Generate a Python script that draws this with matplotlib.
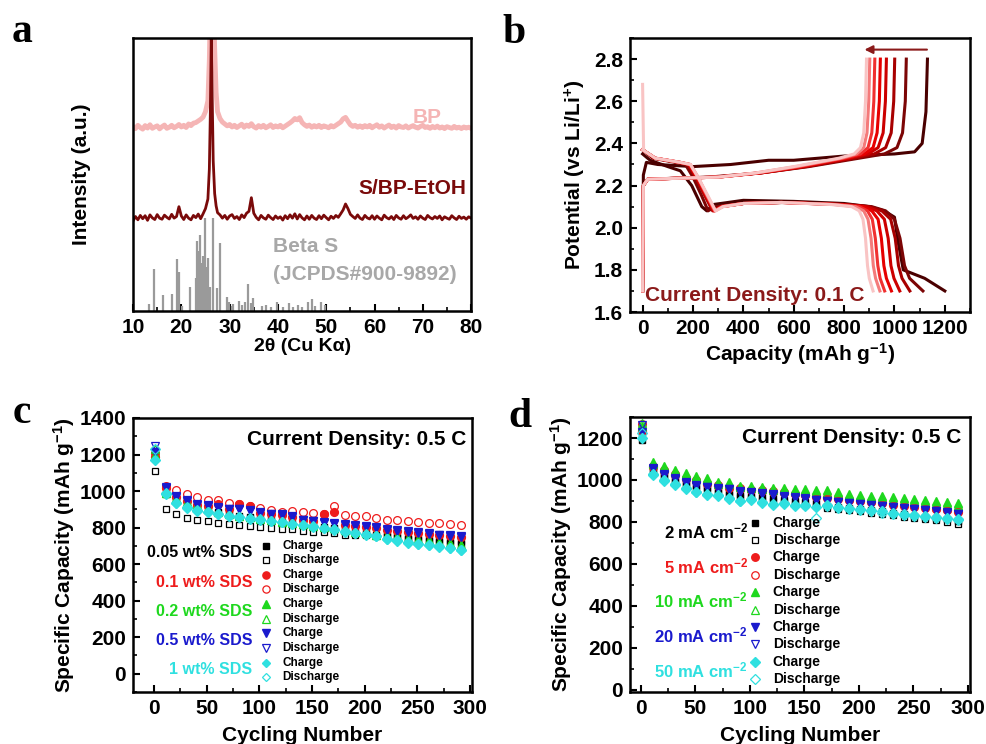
import numpy as np
import matplotlib
matplotlib.use("Agg")
import matplotlib.pyplot as plt
from matplotlib.ticker import MultipleLocator

plt.rcParams["font.family"] = ["Liberation Sans", "DejaVu Sans"]
plt.rcParams["font.weight"] = "bold"
plt.rcParams["axes.labelweight"] = "bold"
plt.rcParams["mathtext.fontset"] = "custom"
plt.rcParams["mathtext.rm"] = "Liberation Sans:bold"
plt.rcParams["mathtext.it"] = "Liberation Sans:bold"
plt.rcParams["mathtext.bf"] = "Liberation Sans:bold"
plt.rcParams["mathtext.default"] = "rm"

# ---------------- panel a : XRD ----------------
two_theta = np.concatenate([
    np.arange(10, 25.6, 0.5),
    [25.8, 26.0, 26.2, 26.4, 26.6, 26.9, 27.2, 27.5],
    np.arange(28, 80.1, 0.5),
])

sbp_int = [
    33.0, 34.6, 33.4, 35.0, 33.8, 34.9, 33.2, 35.2, 34.1, 33.5,
    35.3, 34.0, 33.6, 35.1, 34.3, 33.7, 35.4, 34.0, 34.6, 38.2,
    34.8, 33.5, 35.2, 34.0, 33.4, 35.0, 34.2, 35.5, 33.8, 35.6,
    37.5, 41.0,
    52.0, 72.0, 100.0, 78.0, 55.0, 43.0, 38.5, 36.0,
    35.2, 34.0, 35.0, 33.6, 34.8, 35.3, 33.9, 34.6, 33.5, 35.2,
    34.2, 35.8, 36.5, 41.5, 35.8, 34.3, 33.4, 35.0, 34.1, 33.6,
    35.1, 34.2, 33.5, 34.8, 33.9, 34.5, 33.3, 34.9, 33.8, 35.2,
    34.0, 35.6, 33.7, 35.3, 34.1, 33.4, 34.8, 33.6, 35.0, 34.0,
    33.5, 34.9, 33.8, 35.1, 34.2, 33.4, 34.7, 33.9, 35.0, 34.3,
    35.6, 37.0, 39.2, 37.5, 35.4, 34.6, 33.9, 35.2, 34.0, 33.5,
    35.0, 34.1, 33.7, 34.9, 33.6, 34.8, 34.0, 33.4, 35.1, 34.2,
    33.7, 34.6, 33.5, 35.0, 34.1, 33.6, 34.9, 33.8, 34.4, 35.2,
    33.9, 34.5, 33.6, 34.8, 34.0, 33.5, 35.0, 34.2, 33.7, 34.6,
    33.9, 34.8, 33.4, 34.5, 34.0, 33.6, 34.9, 34.1, 33.5, 34.7,
    33.9, 34.4, 33.6, 34.5, 34.0,
]

bp_int = [
    67.5, 66.8, 68.0, 67.2, 66.6, 67.9, 67.0, 68.2, 66.9, 67.4,
    67.8, 66.7, 67.5, 68.1, 66.9, 67.3, 68.0, 67.1, 67.6, 68.3,
    67.4, 68.0, 67.2, 68.5, 67.9, 68.8, 69.0, 69.6, 70.2, 71.0,
    73.0, 77.0,
    92.0, 112.0, 125.0, 128.0, 118.0, 96.0, 80.0, 73.0,
    70.5, 69.2, 68.5, 67.8, 68.3, 67.4, 68.0, 67.2, 67.8, 68.4,
    67.3, 68.1, 67.6, 68.6, 67.5, 67.0, 67.9, 67.3, 68.0, 67.1,
    67.6, 68.2, 67.2, 67.8, 67.4, 68.0, 67.1, 67.7, 68.3, 68.9,
    69.6, 70.5, 70.0, 70.8, 69.0, 68.2, 67.6, 68.1, 67.3, 67.9,
    67.4, 68.0, 67.2, 67.8, 67.5, 67.1, 67.9, 67.4, 68.0, 68.6,
    69.2, 70.4, 70.9, 69.5, 68.2, 67.6, 68.0, 67.3, 67.8, 67.2,
    67.9, 67.4, 68.0, 67.1, 67.7, 68.2, 67.3, 67.8, 67.0, 67.6,
    68.1, 67.2, 67.7, 67.0, 67.9, 67.4, 67.2, 67.8, 67.0, 67.5,
    67.9, 67.3, 67.0, 67.6, 68.0, 67.2, 67.5, 66.9, 67.6, 67.1,
    67.7, 67.0, 67.4, 66.8, 67.5, 67.2, 66.9, 67.6, 67.0, 67.3,
    66.8, 67.4, 67.0, 67.3, 66.9,
]

stick_pos = [13.4, 14.4, 16.3, 18.0, 19.0, 19.5, 20.1, 21.8, 23.0, 23.2,
             23.5, 23.8, 24.1, 24.5, 24.8, 25.2, 25.6, 26.0, 26.5, 27.4,
             28.0, 29.4, 29.9, 30.4, 30.8, 32.0, 32.6, 33.1, 33.9, 34.4,
             34.8, 36.8, 37.5, 38.6, 39.8, 41.0, 42.2, 43.1, 44.1, 45.0,
             46.3, 47.0, 47.6, 48.9, 49.8]
stick_h = [2.6, 15.2, 5.9, 6.1, 19.0, 14.4, 2.0, 8.7, 12.0, 25.7,
           22.0, 27.8, 17.4, 20.0, 33.9, 16.2, 19.3, 8.9, 33.9, 8.3,
           25.0, 5.2, 3.4, 2.0, 2.6, 3.8, 2.2, 3.4, 9.9, 3.0,
           4.6, 1.8, 2.2, 1.6, 3.3, 1.5, 2.8, 1.6, 2.3, 1.4,
           3.4, 4.4, 2.0, 3.4, 2.2]

# ---------------- panel b : charge / discharge ----------------
cycle_colors = ["#4a0000", "#7c0505", "#a80000", "#cc0000",
                "#e60000", "#f03030", "#f47a7a", "#f9c4c4"]

chg_v_first = [1.70, 2.25, 2.31, 2.30, 2.29, 2.30, 2.32, 2.32, 2.34, 2.35, 2.36, 2.40, 2.55, 2.80]
chg_q_first = [0, 3, 15, 60, 200, 350, 500, 600, 800, 1000, 1080, 1110, 1125, 1131]
chg_v = [1.70, 2.20, 2.23, 2.235, 2.24, 2.26, 2.29, 2.33, 2.35, 2.38, 2.45, 2.60, 2.80]
chg_q = [
    [0, 3, 20, 130, 260, 470, 660, 860, 960, 1010, 1032, 1043, 1047],
    [0, 3, 20, 140, 280, 470, 650, 840, 920, 965, 987, 997, 1001],
    [0, 3, 20, 150, 300, 470, 640, 820, 895, 935, 955, 964, 968],
    [0, 3, 20, 150, 300, 460, 630, 810, 880, 915, 931, 940, 944],
    [0, 3, 20, 150, 300, 460, 620, 800, 865, 895, 910, 918, 922],
    [0, 3, 20, 150, 300, 450, 610, 790, 850, 878, 891, 898, 902],
    [0, 3, 20, 150, 300, 450, 600, 780, 840, 865, 878, 885, 889],
]

dis_v_first = [2.35, 2.32, 2.29, 2.27, 2.20, 2.10, 2.08, 2.11, 2.13, 2.125, 2.115, 2.10, 2.08, 2.05, 1.95, 1.80, 1.76, 1.70]
dis_q_first = [0, 30, 100, 150, 195, 235, 255, 280, 400, 600, 800, 900, 960, 1000, 1012, 1035, 1120, 1200]
dis_v = [2.37, 2.33, 2.31, 2.30, 2.24, 2.15, 2.08, 2.10, 2.115, 2.12, 2.11, 2.10, 2.08, 2.04, 1.95, 1.82, 1.76, 1.70]
dis_q = [
    [0, 40, 130, 170, 200, 235, 260, 290, 400, 570, 810, 910, 965, 1000, 1022, 1040, 1060, 1113],
    [0, 45, 140, 180, 210, 248, 278, 308, 400, 560, 800, 900, 950, 985, 1003, 1016, 1030, 1061],
    [0, 50, 145, 184, 214, 252, 282, 312, 400, 550, 790, 890, 930, 960, 975, 986, 998, 1021],
    [0, 50, 150, 186, 216, 254, 284, 314, 400, 550, 780, 875, 910, 935, 948, 958, 968, 988],
    [0, 50, 150, 188, 218, 256, 286, 316, 400, 550, 770, 860, 893, 912, 924, 934, 943, 961],
    [0, 50, 150, 190, 220, 258, 288, 318, 400, 550, 760, 845, 878, 895, 907, 916, 925, 942],
    [0, 50, 150, 190, 220, 260, 290, 320, 400, 550, 750, 830, 860, 875, 885, 893, 900, 915],
]
ocv_q = [0, 4]
ocv_v = [2.68, 2.37]

# ---------------- panels c and d : cycling ----------------
cycles = list(range(1, 292, 10))
series_colors = ["#000000", "#ee1c1c", "#1ed81e", "#1a1acd", "#2fe0e0"]
series_markers = ["s", "o", "^", "v", "D"]

sds_labels = ["0.05 wt% SDS", "0.1 wt% SDS", "0.2 wt% SDS", "0.5 wt% SDS", "1 wt% SDS"]
c_chg = [
    [1195, 985, 955, 935, 918, 903, 888, 875, 865, 856, 848, 840, 833, 826, 818, 810, 803, 795, 786, 778, 770, 762, 755, 748, 740, 733, 726, 720, 714, 708],
    [1185, 1018, 968, 945, 926, 917, 927, 900, 930, 918, 881, 872, 868, 857, 840, 834, 875, 885, 816, 809, 802, 798, 789, 783, 776, 770, 765, 758, 753, 749],
    [1200, 990, 955, 935, 918, 903, 888, 875, 865, 856, 848, 840, 833, 826, 818, 810, 803, 795, 786, 778, 770, 762, 755, 747, 740, 732, 725, 717, 710, 702],
    [1215, 1018, 968, 945, 926, 917, 908, 900, 900, 890, 881, 872, 868, 857, 840, 834, 827, 821, 816, 809, 802, 798, 789, 783, 776, 770, 765, 758, 753, 749],
    [1170, 982, 932, 908, 893, 883, 873, 863, 856, 848, 842, 835, 828, 820, 812, 805, 797, 788, 778, 770, 762, 752, 738, 728, 718, 710, 702, 694, 686, 678],
]
c_dis = [
    [1108, 903, 876, 854, 843, 835, 826, 821, 813, 806, 802, 799, 793, 790, 784, 778, 777, 769, 762, 757, 760, 755, 752, 748, 745, 741, 737, 733, 729, 725],
    [1210, 1025, 1004, 982, 967, 949, 949, 934, 927, 916, 909, 894, 885, 890, 883, 879, 876, 916, 867, 861, 861, 854, 843, 843, 835, 830, 826, 824, 820, 813],
    [1230, 995, 960, 940, 922, 908, 893, 880, 870, 860, 852, 845, 838, 830, 822, 815, 808, 800, 790, 782, 775, 768, 760, 752, 745, 737, 730, 722, 715, 705],
    [1245, 1022, 972, 949, 930, 921, 912, 903, 903, 894, 885, 876, 872, 861, 843, 838, 831, 825, 820, 813, 806, 802, 793, 787, 780, 774, 769, 762, 757, 753],
    [1230, 988, 935, 910, 895, 885, 875, 866, 858, 850, 845, 838, 830, 822, 815, 807, 800, 790, 780, 772, 765, 755, 740, 730, 720, 712, 705, 697, 688, 680],
]

areal_labels = [r"2 mA cm$^{-2}$", r"5 mA cm$^{-2}$", r"10 mA cm$^{-2}$",
                r"20 mA cm$^{-2}$", r"50 mA cm$^{-2}$"]
d_chg = [
    [1190, 1045, 1020, 1000, 985, 970, 960, 950, 940, 930, 925, 918, 912, 905, 900, 895, 888, 878, 873, 868, 862, 856, 850, 843, 837, 830, 824, 818, 812, 805],
    [1235, 1062, 1042, 1022, 1003, 993, 983, 973, 964, 957, 951, 947, 943, 938, 931, 927, 919, 914, 909, 904, 899, 894, 889, 881, 877, 871, 867, 861, 856, 849],
    [1255, 1088, 1069, 1048, 1034, 1021, 1008, 989, 990, 973, 973, 968, 962, 962, 957, 957, 952, 950, 941, 933, 928, 925, 922, 917, 912, 909, 906, 901, 896, 890],
    [1230, 1050, 1025, 1005, 985, 970, 965, 958, 955, 945, 940, 935, 930, 920, 915, 910, 903, 900, 895, 890, 885, 880, 875, 870, 866, 860, 855, 850, 845, 838],
    [1200, 1030, 1000, 980, 960, 945, 930, 930, 915, 900, 910, 895, 885, 890, 880, 880, 870, 880, 870, 865, 860, 855, 850, 845, 838, 832, 828, 822, 818, 812],
]
d_dis = [
    [1215, 1040, 1012, 992, 976, 962, 951, 940, 930, 920, 913, 906, 900, 893, 886, 880, 874, 868, 862, 856, 850, 844, 838, 832, 826, 820, 814, 808, 802, 790],
    [1265, 1068, 1048, 1028, 1008, 998, 988, 978, 968, 960, 954, 950, 946, 941, 934, 930, 922, 917, 912, 907, 902, 897, 892, 884, 880, 874, 870, 864, 859, 852],
    [1270, 1075, 1058, 1038, 1022, 1010, 998, 982, 980, 965, 964, 958, 953, 952, 947, 946, 942, 938, 930, 923, 918, 915, 911, 906, 902, 898, 895, 890, 885, 879],
    [1260, 1058, 1030, 1010, 990, 975, 968, 960, 957, 948, 942, 937, 932, 923, 918, 912, 906, 902, 897, 892, 887, 882, 877, 872, 868, 862, 857, 852, 847, 840],
    [1225, 1025, 995, 975, 955, 942, 935, 925, 910, 898, 905, 890, 880, 885, 878, 875, 821, 875, 865, 860, 855, 850, 845, 840, 833, 828, 823, 818, 813, 808],
]


def style_axes(ax):
    for sp in ax.spines.values():
        sp.set_linewidth(1.8)
    ax.tick_params(which="major", direction="in", length=5, width=1.5, labelsize=15, pad=5)
    ax.tick_params(which="minor", direction="in", length=3, width=1.2)


def draw_key(ax, labels, mx, tx, gx, y0, dy, gsize, ksize, ms):
    for i, (lab, col, mk) in enumerate(zip(labels, series_colors, series_markers)):
        yc = y0 - 2 * i * dy
        yd = yc - dy
        s = ms * 0.85 if mk in ("s", "D") else ms
        ax.plot([mx], [yc], marker=mk, color=col, ms=s, ls="none", transform=ax.transAxes)
        ax.plot([mx], [yd], marker=mk, mfc="none", mec=col, mew=0.9, ms=s, ls="none",
                transform=ax.transAxes)
        ax.text(tx, yc, "Charge", transform=ax.transAxes, va="center", fontsize=ksize)
        ax.text(tx, yd, "Discharge", transform=ax.transAxes, va="center", fontsize=ksize)
        ax.text(gx, (yc + yd) / 2, lab, color=col, transform=ax.transAxes, ha="right",
                va="center", fontsize=gsize)


def draw_cycling(ax, chg, dis):
    for i in range(5):
        col = series_colors[i]
        mk = series_markers[i]
        s = 4.8 if mk in ("s", "D") else 5.6
        ax.plot(cycles, chg[i], marker=mk, color=col, ms=s, ls="none")
        ax.plot(cycles, dis[i], marker=mk, mfc="none", mec=col, mew=0.9, ms=s, ls="none")


fig = plt.figure(figsize=(9.87, 7.44), dpi=100)

# panel a
ax_a = fig.add_axes([0.1348, 0.582, 0.3425, 0.367])
ax_a.vlines(stick_pos, 0, stick_h, color="#9a9a9a", lw=1.6)
ax_a.plot(two_theta, bp_int, color="#f5b5b5", lw=3.5)
ax_a.plot(two_theta, sbp_int, color="#7a0a0a", lw=2.0)
ax_a.set_xlim(10, 80)
ax_a.set_ylim(0, 100)
ax_a.xaxis.set_major_locator(MultipleLocator(10))
ax_a.xaxis.set_minor_locator(MultipleLocator(5))
style_axes(ax_a)
ax_a.tick_params(axis="y", which="both", left=False, labelleft=False)
ax_a.set_xlabel("2θ (Cu Kα)", fontsize=14, labelpad=1)
ax_a.set_ylabel("Intensity (a.u.)", fontsize=15, labelpad=30)
ax_a.text(74, 71, "BP", color="#f5b5b5", fontsize=15, ha="right", va="center")
ax_a.text(79, 45, "S/BP-EtOH", color="#7a0a0a", fontsize=15, ha="right", va="center")
ax_a.text(39, 23.5, "Beta S", color="#a8a8a8", fontsize=15, ha="left", va="center")
ax_a.text(39, 13.5, "(JCPDS#900-9892)", color="#a8a8a8", fontsize=15, ha="left", va="center")

# panel b
ax_b = fig.add_axes([0.6383, 0.5806, 0.3445, 0.3683])
ax_b.plot(chg_q_first, chg_v_first, color=cycle_colors[0], lw=2.2)
ax_b.plot(dis_q_first, dis_v_first, color=cycle_colors[0], lw=2.2)
for k in range(7):
    ax_b.plot(chg_q[k], chg_v, color=cycle_colors[k + 1], lw=2.2)
    ax_b.plot(dis_q[k], dis_v, color=cycle_colors[k + 1], lw=2.2)
ax_b.plot(ocv_q, ocv_v, color=cycle_colors[-1], lw=2.2)
ax_b.set_xlim(-50, 1300)
ax_b.set_ylim(1.6, 2.9)
ax_b.xaxis.set_major_locator(MultipleLocator(200))
ax_b.xaxis.set_minor_locator(MultipleLocator(100))
ax_b.yaxis.set_major_locator(MultipleLocator(0.2))
ax_b.yaxis.set_minor_locator(MultipleLocator(0.1))
style_axes(ax_b)
ax_b.set_xlabel(r"Capacity (mAh g$^{-1}$)", fontsize=15, labelpad=2)
ax_b.set_ylabel(r"Potential (vs Li/Li$^{+}$)", fontsize=15, labelpad=4)
ax_b.text(10, 1.68, "Current Density: 0.1 C", color="#8b1a1a", fontsize=15, va="center")
ax_b.annotate("", xy=(870, 2.845), xytext=(1140, 2.845),
              arrowprops=dict(arrowstyle="-|>", color="#8b1a1a", lw=1.5, mutation_scale=12))

# panel c
ax_c = fig.add_axes([0.1348, 0.0699, 0.3435, 0.3683])
draw_cycling(ax_c, c_chg, c_dis)
ax_c.set_xlim(-20, 302)
ax_c.set_ylim(-100, 1400)
ax_c.xaxis.set_major_locator(MultipleLocator(50))
ax_c.xaxis.set_minor_locator(MultipleLocator(25))
ax_c.yaxis.set_major_locator(MultipleLocator(200))
ax_c.yaxis.set_minor_locator(MultipleLocator(100))
style_axes(ax_c)
ax_c.set_xlabel("Cycling Number", fontsize=15, labelpad=6)
ax_c.set_ylabel(r"Specific Capacity (mAh g$^{-1}$)", fontsize=15, labelpad=2)
ax_c.text(0.982, 0.92, "Current Density: 0.5 C", transform=ax_c.transAxes,
          ha="right", va="center", fontsize=15)
draw_key(ax_c, sds_labels, 0.392, 0.44, 0.351, 0.534, 0.0533, 11.5, 8.5, 5.2)

# panel d
ax_d = fig.add_axes([0.6383, 0.0699, 0.3445, 0.3696])
draw_cycling(ax_d, d_chg, d_dis)
ax_d.set_xlim(-10, 302)
ax_d.set_ylim(-10, 1300)
ax_d.xaxis.set_major_locator(MultipleLocator(50))
ax_d.xaxis.set_minor_locator(MultipleLocator(25))
ax_d.yaxis.set_major_locator(MultipleLocator(200))
ax_d.yaxis.set_minor_locator(MultipleLocator(100))
style_axes(ax_d)
ax_d.set_xlabel("Cycling Number", fontsize=15, labelpad=6)
ax_d.set_ylabel(r"Specific Capacity (mAh g$^{-1}$)", fontsize=15, labelpad=2)
ax_d.text(0.976, 0.924, "Current Density: 0.5 C", transform=ax_d.transAxes,
          ha="right", va="center", fontsize=15)
draw_key(ax_d, areal_labels, 0.368, 0.42, 0.347, 0.616, 0.0633, 12, 10, 5.4)

# panel letters
for x, y, s in [(0.012, 0.9435, "a"), (0.5086, 0.942, "b"), (0.013, 0.431, "c"), (0.5147, 0.426, "d")]:
    fig.text(x, y, s, fontfamily="Liberation Serif", fontweight="bold", fontsize=30, va="baseline")

fig.savefig("out.png", dpi=100)
